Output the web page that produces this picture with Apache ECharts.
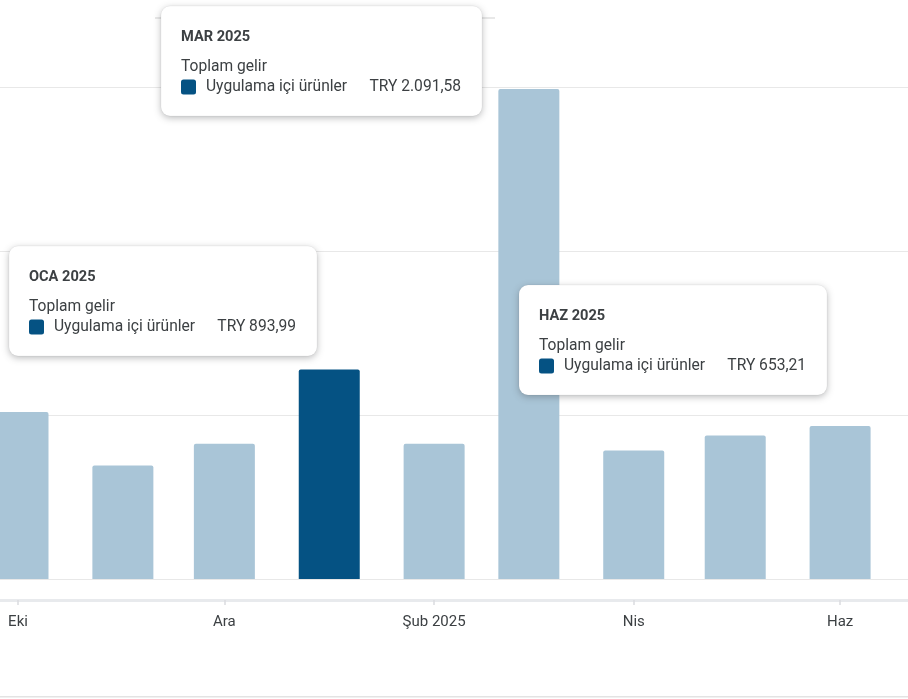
<!DOCTYPE html>
<html>
<head>
<meta charset="utf-8">
<script src="https://cdn.jsdelivr.net/npm/echarts@6/dist/echarts.min.js"></script>
<style>
html,body{margin:0;padding:0;background:#fff;}
#chart{width:908px;height:699px;}
</style>
</head>
<body>
<div id="chart"></div>
<script>
// ---- data ----
const months = ['2024-10-01','2024-11-01','2024-12-01','2025-01-01','2025-02-01','2025-03-01','2025-04-01','2025-05-01','2025-06-01'];
const revenue = [713, 484, 577, 893.99, 577, 2091.58, 548, 612, 653.21];
const highlightMonth = '2025-01-01';
const tickDates = ['2024-10-01','2024-12-01','2025-02-01','2025-04-01','2025-06-01'];
const tickLabels = ['Eki','Ara','Şub 2025','Nis','Haz'];
const yTicks = [0, 700, 1400, 2100];
const tipTitles = ['MAR 2025','OCA 2025','HAZ 2025'];
const tipHeader = 'Toplam gelir';
const tipSeriesName = 'Uygulama içi ürünler';
const tipValues = ['TRY 2.091,58','TRY 893,99','TRY 653,21'];

// ---- layout / style ----
const DAY = 86400000;
const t0 = Date.parse('2024-10-01');
const xMin = t0 - 5.32 * DAY;
const xMax = t0 + 263.07 * DAY;
const tipBoxes = [[161, 6, 321], [9, 246, 308], [519, 285, 308]];
const LIGHT = '#a9c5d7';
const DARK = '#055283';
const TXT = '#3c4043';
const FONT = 'Roboto, "Noto Sans", sans-serif';

const barData = months.map((m, i) => ({
  value: [Date.parse(m), revenue[i]],
  itemStyle: { color: m === highlightMonth ? DARK : LIGHT }
}));
const tickTs = tickDates.map(d => Date.parse(d));

const graphics = [
  { type: 'rect', z: 50, shape: { x: 155, y: 17, width: 340, height: 2 }, style: { fill: '#e8e8e8' } },
  { type: 'rect', z: 50, shape: { x: 0, y: 696, width: 908, height: 1.5 }, style: { fill: '#e3e3e3' } }
];
tipBoxes.forEach((b, i) => {
  const [x, y, w] = b;
  const z = 100 + i * 10;
  graphics.push(
    { type: 'rect', z: z, shape: { x: x, y: y, width: w, height: 110, r: 9 },
      style: { fill: '#fff', stroke: 'rgba(0,0,0,0.04)', lineWidth: 1, shadowBlur: 7, shadowOffsetY: 2, shadowColor: 'rgba(60,64,67,0.35)' } },
    { type: 'text', z: z + 1, style: { text: tipTitles[i], x: x + 20, y: y + 31, fill: TXT, font: 'bold 14.6px ' + FONT, verticalAlign: 'middle' } },
    { type: 'text', z: z + 1, style: { text: tipHeader, x: x + 20, y: y + 61, fill: TXT, font: '15.6px ' + FONT, verticalAlign: 'middle' } },
    { type: 'rect', z: z + 1, shape: { x: x + 20, y: y + 73.5, width: 15, height: 15, r: 2.5 }, style: { fill: DARK } },
    { type: 'text', z: z + 1, style: { text: tipSeriesName, x: x + 45, y: y + 81, fill: TXT, font: '15.6px ' + FONT, verticalAlign: 'middle' } },
    { type: 'text', z: z + 1, style: { text: tipValues[i], x: x + w - 21, y: y + 81, fill: TXT, font: '15.6px ' + FONT, align: 'right', verticalAlign: 'middle' } }
  );
});

const chart = echarts.init(document.getElementById('chart'), null, { renderer: 'canvas' });
chart.setOption({
  animation: false,
  backgroundColor: '#fff',
  grid: { left: 0, right: 0, top: 87, bottom: 120, containLabel: false },
  xAxis: {
    type: 'value',
    min: xMin,
    max: xMax,
    offset: 21,
    axisLine: { show: true, onZero: false, lineStyle: { color: '#e8eaed', width: 3 } },
    axisTick: { show: true, customValues: tickTs, length: 5, lineStyle: { color: '#dadce0', width: 1.5 } },
    axisLabel: {
      customValues: tickTs,
      margin: 15,
      color: TXT,
      fontSize: 15,
      fontFamily: FONT,
      formatter: v => { const k = tickTs.indexOf(v); return k >= 0 ? tickLabels[k] : ''; }
    },
    splitLine: { show: false }
  },
  yAxis: {
    type: 'value',
    min: yTicks[0],
    max: yTicks[yTicks.length - 1],
    interval: yTicks[1] - yTicks[0],
    axisLabel: { show: false },
    axisLine: { show: false },
    axisTick: { show: false },
    splitLine: { show: true, lineStyle: { color: '#e8e8e8', width: 1.2 } }
  },
  series: [{
    type: 'bar',
    data: barData,
    barWidth: 61,
    itemStyle: { borderRadius: [2, 2, 0, 0] },
    clip: true
  }],
  graphic: graphics
});
</script>
</body>
</html>
